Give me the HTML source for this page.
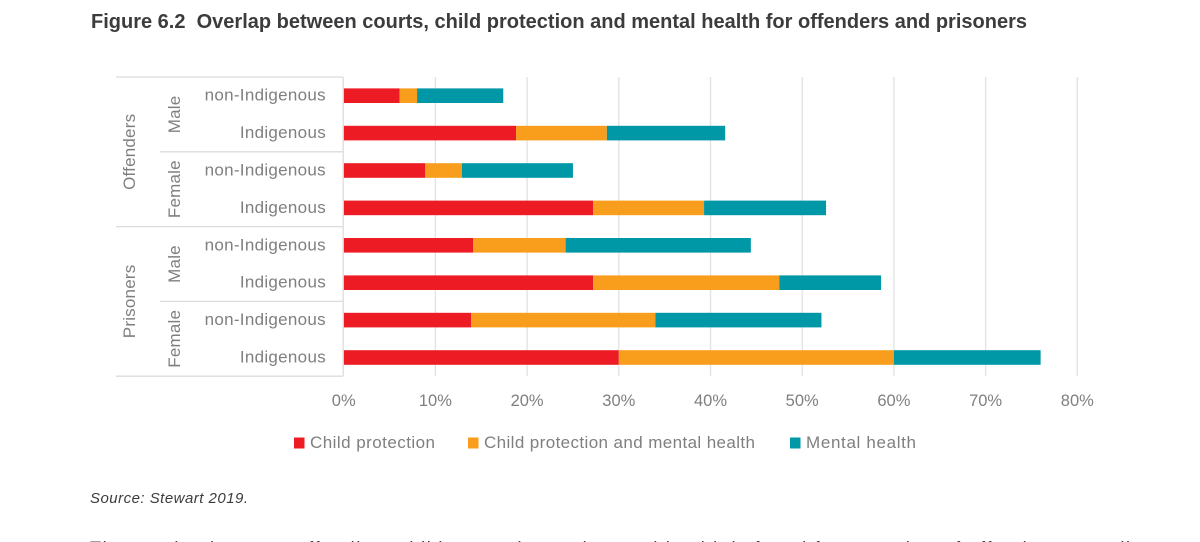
<!DOCTYPE html>
<html lang="en">
<head>
<meta charset="utf-8">
<title>Figure 6.2</title>
<style>
html,body{margin:0;padding:0;background:#fff;width:1200px;height:542px;overflow:hidden}
svg{display:block}
text{font-family:"Liberation Sans",sans-serif}
</style>
</head>
<body>
<svg id="chart" xmlns="http://www.w3.org/2000/svg" width="1200" height="542" viewBox="0 0 1200 542">
<text x="91" y="28" font-size="20" font-weight="700" fill="#3c3c3e" textLength="936" lengthAdjust="spacing" xml:space="preserve">Figure 6.2  Overlap between courts, child protection and mental health for offenders and prisoners</text>
<g id="grid"></g>
<g id="bars"></g>
<g id="labels"></g>
<g id="ticks"></g>
<g id="legend"></g>
<text x="90" y="503" font-size="15" font-style="italic" fill="#3c3c3e" textLength="158" lengthAdjust="spacing">Source: Stewart 2019.</text>
<text x="90" y="554.5" font-size="18" fill="#3c3c3e" textLength="1040" lengthAdjust="spacing">The overlap between offending, child protection and mental health is found for a number of offenders as well</text>
</svg>
<script>
var categories = ['non-Indigenous','Indigenous','non-Indigenous','Indigenous','non-Indigenous','Indigenous','non-Indigenous','Indigenous'];
var childProtection = [6.1,18.8,8.9,27.2,14.1,27.2,13.9,30];
var childAndMental = [1.9,9.9,4.0,12.1,10.1,20.3,20.1,30];
var mentalHealth = [9.4,12.9,12.1,13.3,20.2,11.1,18.1,16];
var seriesNames = ['Child protection','Child protection and mental health','Mental health'];
var tickValues = [0,10,20,30,40,50,60,70,80];
var genderLabels = ['Male','Female','Male','Female'];
var groupLabels = ['Offenders','Prisoners'];

var NS = 'http://www.w3.org/2000/svg';
var colors = ['#ed1c24','#f99d1c','#0097a7'];
var plotLeft = 343.7, pxPerUnit = 9.17, plotTop = 77, rowHeight = 37.4;
function xScale(v){ return plotLeft + v * pxPerUnit; }
function yScale(i){ return plotTop + rowHeight * (i + 0.5); }
function make(tag, attrs, parent, txt){
  var el = document.createElementNS(NS, tag);
  for (var k in attrs) el.setAttribute(k, attrs[k]);
  if (txt !== undefined) el.textContent = txt;
  parent.appendChild(el);
  return el;
}
var plotBottom = plotTop + rowHeight * categories.length;
var grid = document.getElementById('grid');
var ticks = document.getElementById('ticks');
tickValues.forEach(function(t){
  if (t > 0) {
    var g = make('line', {x1:xScale(t), x2:xScale(t), y1:plotTop, y2:plotBottom, stroke:'#e2e2e2', 'stroke-width':1.3}, grid);
    
    
  }
  var l = make('text', {x:xScale(t), y:406, 'font-size':16.5, fill:'#7f7f7f', 'text-anchor':'middle'}, ticks, t + '%');
  
  
});
var bars = document.getElementById('bars');
categories.forEach(function(c, i){
  var stack = [childProtection[i], childAndMental[i], mentalHealth[i]];
  var acc = 0;
  stack.forEach(function(v, s){
    var r = make('rect', {x:xScale(acc), y:yScale(i) - 7.3, width:xScale(acc + v) - xScale(acc), height:14.6, fill:colors[s]}, bars);
    
    
    acc += v;
  });
});
var labels = document.getElementById('labels');
function sepLine(x1, x2, y, nm){
  var l = make('line', {x1:x1, x2:x2, y1:y, y2:y, stroke:'#dcdcdc', 'stroke-width':1.3}, labels);
  
  
}
var axisLine = make('line', {x1:plotLeft - 0.5, x2:plotLeft - 0.5, y1:plotTop, y2:plotBottom, stroke:'#dcdcdc', 'stroke-width':1.3}, labels);


sepLine(116, 343, plotTop, 'group-top-line');
sepLine(116, 343, plotTop + rowHeight * 4, 'group-middle-line');
sepLine(116, 343, plotBottom, 'group-bottom-line');
sepLine(160, 343, plotTop + rowHeight * 2, 'gender-line-offenders');
sepLine(160, 343, plotTop + rowHeight * 6, 'gender-line-prisoners');
categories.forEach(function(c, i){
  var t = make('text', {x:326, y:yScale(i) + 5, 'font-size':17, fill:'#7f7f7f', 'text-anchor':'end', 'letter-spacing':0.3}, labels, c);
  
  
});
genderLabels.forEach(function(g, i){
  var cy = plotTop + rowHeight * (i * 2 + 1);
  var t = make('text', {transform:'translate(180,' + cy + ') rotate(-90)', 'font-size':17, fill:'#7f7f7f', 'text-anchor':'middle', 'letter-spacing':0.2}, labels, g);
  
  
});
groupLabels.forEach(function(g, i){
  var cy = plotTop + rowHeight * (i * 4 + 2);
  var t = make('text', {transform:'translate(135,' + cy + ') rotate(-90)', 'font-size':17, fill:'#7f7f7f', 'text-anchor':'middle', 'letter-spacing':0.2}, labels, g);
  
  
});
var legend = document.getElementById('legend');
var legendSwatchX = [294, 468, 790];
var legendTextWidth = [125, 271, 110];
seriesNames.forEach(function(n, i){
  var sw = make('rect', {x:legendSwatchX[i], y:437.5, width:10.5, height:11, fill:colors[i]}, legend);
  
  
  var t = make('text', {x:legendSwatchX[i] + 16, y:448, 'font-size':17, fill:'#7f7f7f', textLength:legendTextWidth[i], lengthAdjust:'spacing'}, legend, n);
  
  
});
</script>
</body>
</html>
